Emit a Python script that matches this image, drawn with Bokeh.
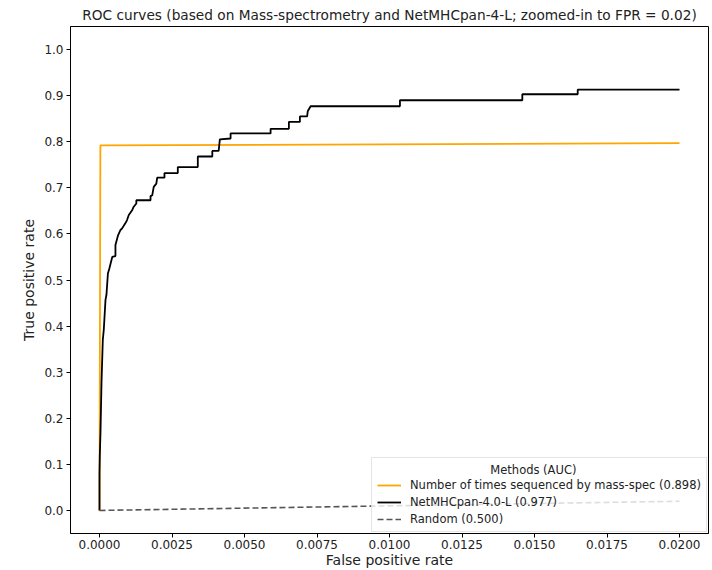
from bokeh.plotting import figure
from bokeh.models import FixedTicker, NumeralTickFormatter, Legend, LegendItem
from bokeh.embed import file_html
from bokeh.resources import INLINE

# ---- data ----
fpr_mass = [0.0, 0.00003, 0.02]
tpr_mass = [0.0, 0.792, 0.797]

fpr_net = [0.0, 0.0, 0.00001, 0.000034, 0.000069, 0.000114, 0.000148, 0.000207, 0.00024,
           0.00029, 0.00034, 0.00044, 0.00055, 0.00055, 0.00064, 0.00072, 0.00078, 0.00089,
           0.00095, 0.00101, 0.00113, 0.00118, 0.00127, 0.00127, 0.00176, 0.00176, 0.00182,
           0.00187, 0.00196, 0.00199, 0.00224, 0.00224, 0.00270, 0.00270, 0.00339, 0.00339,
           0.00389, 0.00389, 0.00411, 0.00415, 0.00452, 0.00452, 0.00590, 0.00590, 0.00653,
           0.00653, 0.00691, 0.00691, 0.00716, 0.00718, 0.00728, 0.01036, 0.01036, 0.01458,
           0.01458, 0.01649, 0.01649, 0.02]
tpr_net = [0.0, 0.08, 0.117, 0.169, 0.277, 0.370, 0.392, 0.457, 0.468,
           0.514, 0.525, 0.550, 0.552, 0.576, 0.597, 0.608, 0.612, 0.623,
           0.630, 0.641, 0.652, 0.659, 0.666, 0.673, 0.673, 0.682, 0.684,
           0.702, 0.709, 0.722, 0.722, 0.732, 0.732, 0.745, 0.745, 0.768,
           0.768, 0.780, 0.780, 0.805, 0.807, 0.818, 0.818, 0.828, 0.828,
           0.843, 0.843, 0.855, 0.855, 0.866, 0.877, 0.877, 0.890, 0.890,
           0.903, 0.903, 0.913, 0.913]

fpr_random = [0.0, 0.02]
tpr_random = [0.0, 0.02]

x_ticks = [0.0, 0.0025, 0.005, 0.0075, 0.01, 0.0125, 0.015, 0.0175, 0.02]
y_ticks = [0.0, 0.1, 0.2, 0.3, 0.4, 0.5, 0.6, 0.7, 0.8, 0.9, 1.0]

labels = ["Number of times sequenced by mass-spec (0.898)",
          "NetMHCpan-4.0-L (0.977)",
          "Random (0.500)"]
legend_title = "Methods (AUC)"

FONT = "DejaVu Sans"
X0, X1 = -0.001, 0.021
Y0, Y1 = -0.05, 1.05

p = figure(width=712, height=570, x_range=(X0, X1), y_range=(Y0, Y1),
           output_backend="svg", toolbar_location=None,
           min_border_left=70, min_border_right=4, min_border_top=26, min_border_bottom=36,
           title="ROC curves (based on Mass-spectrometry and NetMHCpan-4-L; zoomed-in to FPR = 0.02)")

p.title.align = "center"
p.title.text_font = FONT
p.title.text_font_size = "13.7px"
p.title.text_font_style = "normal"
p.title.text_color = "#222222"
p.title.standoff = 7

p.xgrid.visible = False
p.ygrid.visible = False
p.outline_line_color = "black"
p.outline_line_width = 1
p.background_fill_color = "white"
p.border_fill_color = "white"

r_mass = p.line(fpr_mass, tpr_mass, line_color="#FFA500", line_width=1.8)
r_net = p.line(fpr_net, tpr_net, line_color="black", line_width=1.8)
r_rand = p.line(fpr_random, tpr_random, line_color="#555555", line_width=1.6, line_dash="6 3")

p.xaxis.ticker = FixedTicker(ticks=x_ticks)
p.yaxis.ticker = FixedTicker(ticks=y_ticks)
p.xaxis.formatter = NumeralTickFormatter(format="0.0000")
p.yaxis.formatter = NumeralTickFormatter(format="0.0")

for ax in (p.xaxis, p.yaxis):
    ax.minor_tick_line_color = None
    ax.major_tick_in = 0
    ax.major_tick_out = 4
    ax.major_tick_line_color = "black"
    ax.axis_line_color = "black"
    ax.major_label_text_font = FONT
    ax.major_label_text_font_size = "12px"
    ax.major_label_text_color = "#222222"
    ax.axis_label_text_font = FONT
    ax.axis_label_text_font_size = "14px"
    ax.axis_label_text_font_style = "normal"
    ax.axis_label_text_color = "#222222"
    ax.major_label_standoff = 3

p.xaxis.axis_label = "False positive rate"
p.yaxis.axis_label = "True positive rate"
p.xaxis.major_label_standoff = 2
p.xaxis.axis_label_standoff = 0
p.yaxis.axis_label_standoff = 4

# matplotlib centres the legend title; pad it with non-breaking spaces
title_pad = "\u00a0" * 31
legend = Legend(items=[LegendItem(label=labels[0], renderers=[r_mass]),
                       LegendItem(label=labels[1], renderers=[r_net]),
                       LegendItem(label=labels[2], renderers=[r_rand])],
                location="bottom_right", title=title_pad + legend_title)
legend.title_text_font = FONT
legend.title_text_font_size = "11.5px"
legend.title_text_font_style = "normal"
legend.title_text_color = "#222222"
legend.title_standoff = 1
legend.label_text_font = FONT
legend.label_text_font_size = "11.5px"
legend.label_text_color = "#222222"
legend.label_height = 14
legend.glyph_height = 14
legend.glyph_width = 24
legend.label_standoff = 9
legend.spacing = 3
legend.padding = 5
legend.margin = 1
legend.border_line_color = "#cccccc"
legend.background_fill_alpha = 0.8
p.add_layout(legend)

open("out.html", "w").write(file_html(p, INLINE))
